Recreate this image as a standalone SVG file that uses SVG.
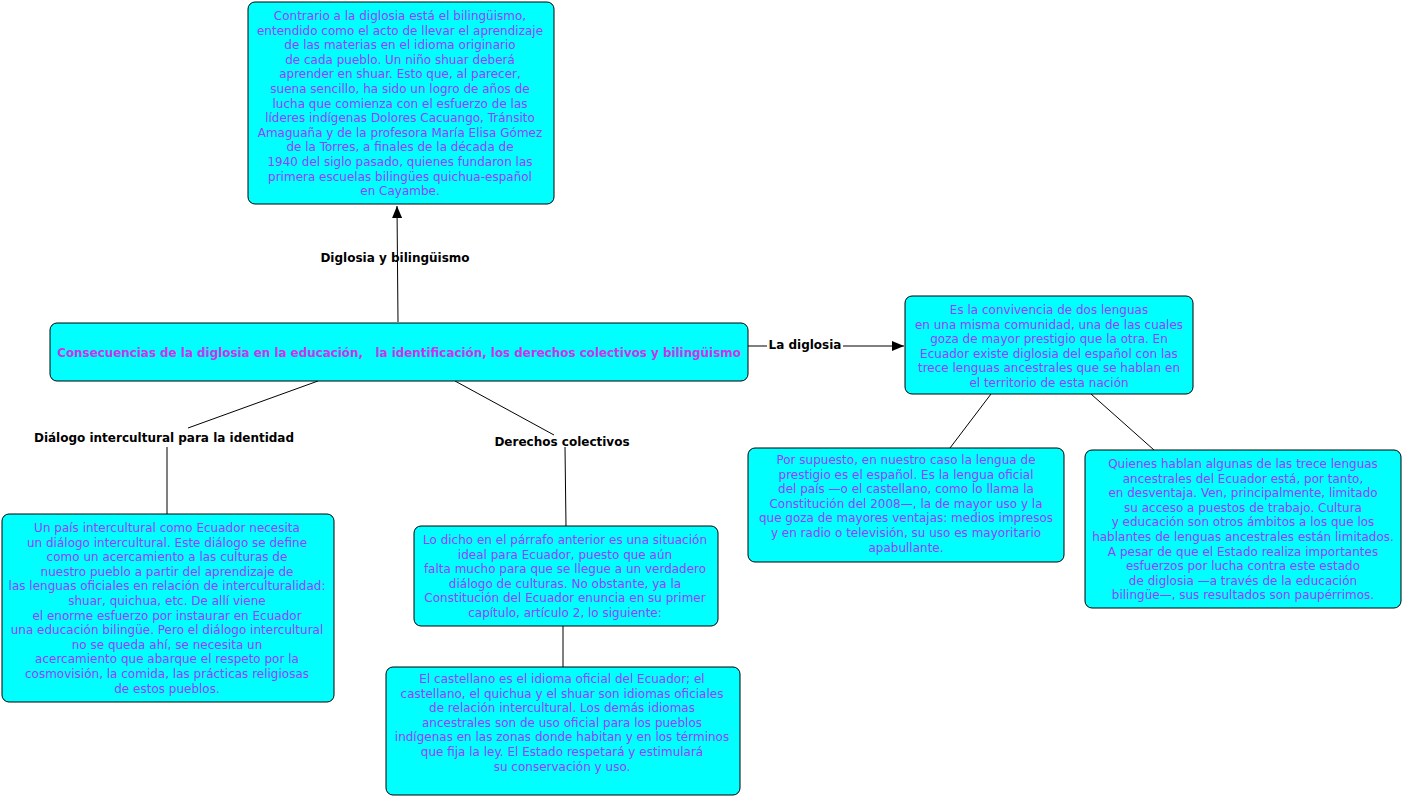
<svg xmlns="http://www.w3.org/2000/svg" width="1403" height="798" viewBox="0 0 1403 798">
<style>
.box{fill:#00FFFF;stroke:#000;stroke-width:1}
.t{font-family:"DejaVu Sans",Verdana,sans-serif;font-size:12px;fill:#9D3CFF;text-anchor:middle}
.title{font-family:"DejaVu Sans",Verdana,sans-serif;font-size:11.9px;font-weight:bold;fill:#CC33F0;text-anchor:middle;white-space:pre}
.lbl{font-family:"DejaVu Sans",Verdana,sans-serif;font-size:12px;font-weight:bold;fill:#000;text-anchor:middle}
.c{stroke:#000;stroke-width:1;fill:none}
</style>
<defs>
<marker id="arr" viewBox="0 0 12 10" refX="12" refY="5" markerWidth="12" markerHeight="10" markerUnits="userSpaceOnUse" orient="auto">
<path d="M0,0 L12,5 L0,10 Z" fill="#000"/>
</marker>
</defs>
<rect width="1403" height="798" fill="#fff"/>
<g id="connectors">
<line class="c" x1="398" y1="322" x2="397" y2="206" marker-end="url(#arr)"/>
<line class="c" x1="748" y1="346" x2="767" y2="346"/>
<line class="c" x1="843" y1="346" x2="904" y2="346" marker-end="url(#arr)"/>
<line class="c" x1="318" y1="381" x2="188" y2="428"/>
<line class="c" x1="167" y1="447" x2="167" y2="514"/>
<line class="c" x1="455" y1="381" x2="554" y2="435"/>
<line class="c" x1="565" y1="447" x2="566" y2="526"/>
<line class="c" x1="563" y1="626" x2="563" y2="667"/>
<line class="c" x1="991" y1="394" x2="950" y2="448"/>
<line class="c" x1="1091" y1="394" x2="1154" y2="450"/>
<text class="lbl" x="395" y="262">Diglosia y bilingüismo</text>
<text class="lbl" x="805" y="349">La diglosia</text>
<text class="lbl" x="164" y="442">Diálogo intercultural para la identidad</text>
<text class="lbl" x="562" y="446">Derechos colectivos</text>
</g>
<g id="central">
<rect class="box" x="50" y="323" width="698" height="58" rx="7"/>
<text class="title" x="399" y="357">Consecuencias de la diglosia en la educación,   la identificación, los derechos colectivos y bilingüismo</text>
</g>
<g id="bilinguismo">
<rect class="box" x="248" y="2" width="306" height="202" rx="7"/>
<text class="t" x="400" y="20">Contrario a la diglosia está el bilingüismo,</text>
<text class="t" x="400" y="34.6">entendido como el acto de llevar el aprendizaje</text>
<text class="t" x="400" y="49.2">de las materias en el idioma originario</text>
<text class="t" x="400" y="63.8">de cada pueblo. Un niño shuar deberá</text>
<text class="t" x="400" y="78.4">aprender en shuar. Esto que, al parecer,</text>
<text class="t" x="400" y="93">suena sencillo, ha sido un logro de años de</text>
<text class="t" x="400" y="107.6">lucha que comienza con el esfuerzo de las</text>
<text class="t" x="400" y="122.2">líderes indígenas Dolores Cacuango, Tránsito</text>
<text class="t" x="400" y="136.8">Amaguaña y de la profesora María Elisa Gómez</text>
<text class="t" x="400" y="151.4">de la Torres, a finales de la década de</text>
<text class="t" x="400" y="166">1940 del siglo pasado, quienes fundaron las</text>
<text class="t" x="400" y="180.6">primera escuelas bilingües quichua-español</text>
<text class="t" x="400" y="195.2">en Cayambe.</text>
</g>
<g id="diglosia">
<rect class="box" x="905" y="296" width="288" height="98" rx="7"/>
<text class="t" x="1049" y="314">Es la convivencia de dos lenguas</text>
<text class="t" x="1049" y="328.6">en una misma comunidad, una de las cuales</text>
<text class="t" x="1049" y="343.2">goza de mayor prestigio que la otra. En</text>
<text class="t" x="1049" y="357.8">Ecuador existe diglosia del español con las</text>
<text class="t" x="1049" y="372.4">trece lenguas ancestrales que se hablan en</text>
<text class="t" x="1049" y="387">el territorio de esta nación</text>
</g>
<g id="prestigio">
<rect class="box" x="748" y="448" width="316" height="114" rx="7"/>
<text class="t" x="906" y="464">Por supuesto, en nuestro caso la lengua de</text>
<text class="t" x="906" y="478.6">prestigio es el español. Es la lengua oficial</text>
<text class="t" x="906" y="493.2">del país —o el castellano, como lo llama la</text>
<text class="t" x="906" y="507.8">Constitución del 2008—, la de mayor uso y la</text>
<text class="t" x="906" y="522.4">que goza de mayores ventajas: medios impresos</text>
<text class="t" x="906" y="537">y en radio o televisión, su uso es mayoritario</text>
<text class="t" x="906" y="551.6">apabullante.</text>
</g>
<g id="desventaja">
<rect class="box" x="1085" y="450" width="316" height="158" rx="7"/>
<text class="t" x="1243" y="468">Quienes hablan algunas de las trece lenguas</text>
<text class="t" x="1243" y="482.6">ancestrales del Ecuador está, por tanto,</text>
<text class="t" x="1243" y="497.2">en desventaja. Ven, principalmente, limitado</text>
<text class="t" x="1243" y="511.8">su acceso a puestos de trabajo. Cultura</text>
<text class="t" x="1243" y="526.4">y educación son otros ámbitos a los que los</text>
<text class="t" x="1243" y="541">hablantes de lenguas ancestrales están limitados.</text>
<text class="t" x="1243" y="555.6">A pesar de que el Estado realiza importantes</text>
<text class="t" x="1243" y="570.2">esfuerzos por lucha contra este estado</text>
<text class="t" x="1243" y="584.8">de diglosia —a través de la educación</text>
<text class="t" x="1243" y="599.4">bilingüe—, sus resultados son paupérrimos.</text>
</g>
<g id="dialogo">
<rect class="box" x="2" y="514" width="332" height="188" rx="7"/>
<text class="t" x="167" y="532">Un país intercultural como Ecuador necesita</text>
<text class="t" x="167" y="546.6">un diálogo intercultural. Este diálogo se define</text>
<text class="t" x="167" y="561.2">como un acercamiento a las culturas de</text>
<text class="t" x="167" y="575.8">nuestro pueblo a partir del aprendizaje de</text>
<text class="t" x="167" y="590.4">las lenguas oficiales en relación de interculturalidad:</text>
<text class="t" x="167" y="605">shuar, quichua, etc. De allí viene</text>
<text class="t" x="167" y="619.6">el enorme esfuerzo por instaurar en Ecuador</text>
<text class="t" x="167" y="634.2">una educación bilingüe. Pero el diálogo intercultural</text>
<text class="t" x="167" y="648.8">no se queda ahí, se necesita un</text>
<text class="t" x="167" y="663.4">acercamiento que abarque el respeto por la</text>
<text class="t" x="167" y="678">cosmovisión, la comida, las prácticas religiosas</text>
<text class="t" x="167" y="692.6">de estos pueblos.</text>
</g>
<g id="derechos">
<rect class="box" x="414" y="526" width="304" height="100" rx="7"/>
<text class="t" x="565" y="544">Lo dicho en el párrafo anterior es una situación</text>
<text class="t" x="565" y="558.6">ideal para Ecuador, puesto que aún</text>
<text class="t" x="565" y="573.2">falta mucho para que se llegue a un verdadero</text>
<text class="t" x="565" y="587.8">diálogo de culturas. No obstante, ya la</text>
<text class="t" x="565" y="602.4">Constitución del Ecuador enuncia en su primer</text>
<text class="t" x="565" y="617">capítulo, artículo 2, lo siguiente:</text>
</g>
<g id="constitucion">
<rect class="box" x="386" y="667" width="354" height="128" rx="7"/>
<text class="t" x="562" y="683">El castellano es el idioma oficial del Ecuador; el</text>
<text class="t" x="562" y="697.6">castellano, el quichua y el shuar son idiomas oficiales</text>
<text class="t" x="562" y="712.2">de relación intercultural. Los demás idiomas</text>
<text class="t" x="562" y="726.8">ancestrales son de uso oficial para los pueblos</text>
<text class="t" x="562" y="741.4">indígenas en las zonas donde habitan y en los términos</text>
<text class="t" x="562" y="756">que fija la ley. El Estado respetará y estimulará</text>
<text class="t" x="562" y="770.6">su conservación y uso.</text>
</g>
</svg>
